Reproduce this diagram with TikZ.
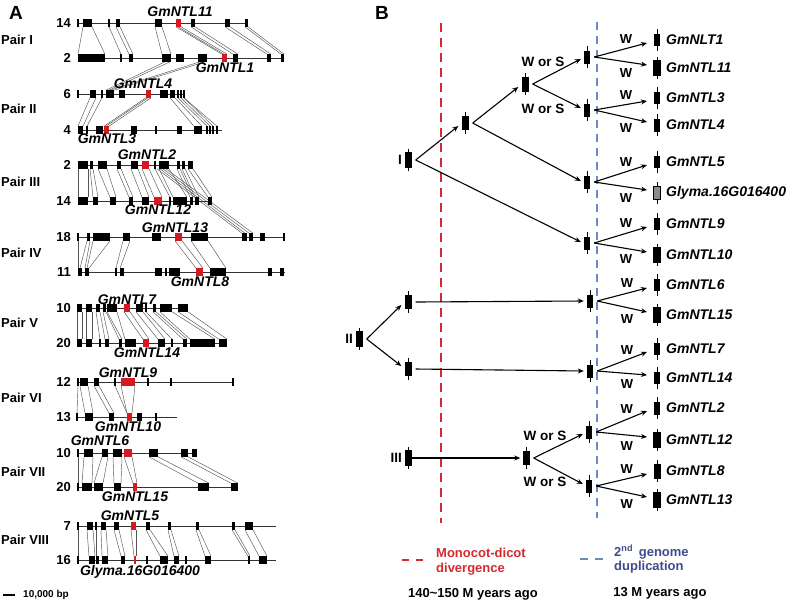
\documentclass[tikz,border=0pt]{standalone}
\usepackage{fontspec}
\setmainfont{Liberation Sans}
\usetikzlibrary{arrows.meta,calc}
\definecolor{ared}{HTML}{D7191F}
\definecolor{dred}{HTML}{D42A2F}
\definecolor{dblue}{HTML}{6A8BBE}
\definecolor{tblue}{HTML}{3F4C8C}
\definecolor{lkc}{HTML}{555555}
\tikzset{
  lk/.style={draw=lkc, line width=0.45pt},
  chrl/.style={draw=black!80, line width=0.9pt},
  numl/.style={font=\fontsize{13}{13}\selectfont\bfseries, inner sep=0pt},
  pairl/.style={font=\fontsize{13}{13}\selectfont\bfseries, inner sep=0pt, anchor=west},
  genl/.style={font=\fontsize{14}{14}\selectfont\bfseries\itshape, inner sep=0pt},
  arr/.style={line width=1.1pt, -{Stealth[length=6pt,width=5pt]}},
  wl/.style={font=\fontsize{13}{13}\selectfont\bfseries, inner sep=1pt},
  wsl/.style={font=\fontsize{13.5}{14}\selectfont\bfseries, inner sep=0pt},
  legt/.style={font=\fontsize{13}{13}\selectfont\bfseries, inner sep=0pt},
}
\newcommand\chr[4]{\draw[chrl] (#2,#1) -- (#3,#1); \node[numl, anchor=east] at (71,#1) {#4};}
\newcommand\blocks[2]{\foreach \a/\b in {#2}{\fill (\a,#1-3.8) rectangle (\b,#1+3.8);}}
\newcommand\reds[2]{\foreach \a/\b in {#2}{\fill[ared] (\a,#1-3.8) rectangle (\b,#1+3.8);}}
\newcommand\ticks[2]{\foreach \a in {#2}{\draw[line width=1.2pt] (\a,#1-3.8) -- (\a,#1+3.8);}}
\newcommand\links[3]{\foreach \a/\b in {#3}{\draw[lk] (\a,#1+3.8) -- (\b,#2-3.8);}}
\newcommand\gn[5]{\draw[line width=1pt] (#2,#3-11) -- (#2,#3+11);
  \node[fill=black, inner sep=0pt, minimum width=#4, minimum height=#5] (#1) at (#2,#3) {};}
\begin{document}
\begin{tikzpicture}[x=1pt,y=-1pt]
\useasboundingbox (0,0) rectangle (794,606);
\fill[white] (0,0) rectangle (794,606);

% ---------------- Panel A ----------------
\node[font=\fontsize{19}{19}\selectfont\bfseries, inner sep=0pt] at (16,13) {A};

% links
\links{23}{58}{83/78, 92/105, 109/121, 116/129, 120/133, 155/162, 162/171, 176/222, 178/224, 181/227, 191/233, 195/238, 225/267, 230/271, 245/281, 248/284}
\links{58}{94}{165/106, 170/109, 200/110, 205/114}
\links{94}{130}{90/78, 96/83, 102/87, 146/104, 148/106, 151/109, 170/194, 175/202, 178/207, 181/210, 184/213, 184/217}
\links{165}{201}{78/78, 88/88, 90/93, 93/98, 98/110, 107/116, 117/129, 121/133, 131/142, 138/149, 142/154, 149/162, 155/170, 159/173, 169/187, 177/190, 180/193, 182/195, 185/199, 188/208, 193/212}
\links{165}{237}{157/242, 160/245, 163/249, 166/253}
\links{237}{272}{78/78, 87/80, 90/85, 93/87, 110/89, 123/116, 130/120, 175/196, 182/203, 191/210, 208/226}
\links{308}{343}{77/77, 82/82, 86/86, 92/92, 96/100, 100/105, 103/109, 106/119, 107/122, 117/125, 124/143, 130/149, 136/158, 143/165, 146/172, 153/183, 156/187, 160/190, 172/215, 178/219, 188/227}
\links{382}{417}{78/77, 80/85, 88/93, 94/109, 99/114, 115/127, 121/127, 135/132}
\links{453}{487}{78/78, 84/82, 93/92, 102/94, 108/103, 113/114, 122/121, 124/133, 132/137, 149/198, 158/209, 181/231, 188/238}
\links{526}{560}{78/78, 87/89, 93/95, 96/96, 101/102, 106/108, 114/121, 119/125, 131/134, 136/136, 146/160, 150/168, 168/174, 171/179, 196/205, 199/211, 232/248, 235/250, 245/259, 253/267}

% Pair I
\node[pairl] at (1,40) {Pair I};
\chr{23}{78}{247}{14}
\ticks{23}{78,109}
\blocks{23}{83/92, 116/120, 155/162, 191/195, 225/230, 245/248}
\reds{23}{176/181}
\chr{58}{78}{283}{2}
\ticks{58}{121}
\blocks{58}{78/105, 129/133, 162/171, 176/184, 198/207, 233/238, 267/271, 281/284}
\reds{58}{222/227}
\node[genl] at (180,12) {GmNTL11};
\node[genl] at (225,68) {GmNTL1};

% Pair II
\node[pairl] at (1,109) {Pair II};
\chr{94}{78}{185}{6}
\ticks{94}{78,102,178,181,184}
\blocks{94}{90/96, 106/114, 119/125, 160/168, 170/175}
\reds{94}{146/151}
\chr{130}{78}{222}{4}
\ticks{130}{87,156,207,210,213,217}
\blocks{130}{78/83, 96/103, 131/137, 177/182, 194/202}
\reds{130}{104/109}
\node[genl] at (143,84) {GmNTL4};
\node[genl] at (107,139) {GmNTL3};

% Pair III
\node[pairl] at (1,182) {Pair III};
\chr{165}{78}{193}{2}
\ticks{165}{155}
\blocks{165}{78/88, 90/93, 98/107, 117/121, 131/138, 159/169, 177/180, 182/185, 188/193}
\reds{165}{142/149}
\chr{201}{78}{212}{14}
\ticks{201}{170}
\blocks{201}{78/88, 93/98, 110/116, 129/133, 142/149, 173/187, 190/193, 195/199, 208/212}
\reds{201}{154/162}
\node[genl] at (147,155) {GmNTL2};
\node[genl] at (158,210) {GmNTL12};

% Pair IV
\node[pairl] at (1,253) {Pair IV};
\chr{237}{78}{285}{18}
\ticks{237}{78,284}
\blocks{237}{87/90, 93/110, 123/130, 152/161, 191/208, 242/247, 249/253, 260/265}
\reds{237}{175/182}
\chr{272}{78}{285}{11}
\ticks{272}{116,166}
\blocks{272}{78/82, 85/89, 120/124, 155/162, 169/180, 210/226, 268/272, 280/284}
\reds{272}{196/203}
\node[genl] at (175,228) {GmNTL13};
\node[genl] at (200,282) {GmNTL8};

% Pair V
\node[pairl] at (1,323) {Pair V};
\chr{308}{78}{188}{10}
\ticks{308}{146}
\blocks{308}{77/82, 86/92, 96/100, 103/106, 107/117, 136/143, 153/156, 160/172, 178/188}
\reds{308}{124/130}
\chr{343}{78}{227}{20}
\ticks{343}{100,172}
\blocks{343}{77/82, 86/92, 105/109, 119/122, 125/136, 158/165, 183/187, 190/215, 219/227}
\reds{343}{143/149}
\node[genl] at (127,300) {GmNTL7};
\node[genl] at (147,353) {GmNTL14};

% Pair VI
\node[pairl] at (1,398) {Pair VI};
\chr{382}{78}{233}{12}
\ticks{382}{78,115,148,171,233}
\blocks{382}{80/88, 94/99}
\reds{382}{121/135}
\chr{417}{78}{177}{13}
\ticks{417}{77,156}
\blocks{417}{85/93, 109/114, 137/142}
\reds{417}{127/132}
\node[genl] at (128,373) {GmNTL9};
\node[genl] at (128,427) {GmNTL10};

% Pair VII
\node[pairl] at (1,472) {Pair VII};
\chr{453}{78}{197}{10}
\ticks{453}{78}
\blocks{453}{84/93, 102/108, 113/122, 149/158, 181/188, 192/197}
\reds{453}{124/132}
\chr{487}{78}{238}{20}
\ticks{487}{78}
\blocks{487}{82/92, 94/103, 114/121, 198/209, 231/238}
\reds{487}{133/137}
\node[genl] at (100,441) {GmNTL6};
\node[genl] at (135,497) {GmNTL15};

% Pair VIII
\node[pairl] at (1,540) {Pair VIII};
\chr{526}{78}{276}{7}
\ticks{526}{78,96}
\blocks{526}{87/93, 101/106, 114/119, 146/150, 168/171, 196/199, 232/235, 245/253}
\reds{526}{131/136}
\chr{560}{78}{276}{16}
\ticks{560}{78,147,186,249}
\blocks{560}{89/95, 96/99, 102/108, 121/125, 160/168, 174/179, 205/211, 259/267}
\reds{560}{134/136}
\node[genl] at (130,516) {GmNTL5};
\node[genl] at (140,572) {Glyma.16G016400};

% scale bar
\draw[line width=2.6pt] (3,595) -- (15,595);
\node[font=\fontsize{10}{10}\selectfont\bfseries, inner sep=0pt, anchor=west] at (23,595) {10,000 bp};

% ---------------- Panel B ----------------
\node[font=\fontsize{19}{19}\selectfont\bfseries, inner sep=0pt] at (382,13) {B};

\draw[dred, line width=2pt, dash pattern=on 9pt off 6pt] (441,23) -- (441,523);
\draw[dblue, line width=1.6pt, dash pattern=on 8pt off 6pt] (597,22) -- (597,518);

% internal nodes
\gn{I}{408}{160}{7}{16}
\gn{n2}{465}{123}{7}{14}
\gn{n3}{525}{84}{7}{15}
\gn{p1}{587}{57}{6}{13}
\gn{p2}{587}{110}{6}{13}
\gn{p3}{587}{182}{6}{13}
\gn{p4}{587}{243}{6}{13}
\gn{II}{359}{339}{7}{16}
\gn{c1}{408}{302}{7}{14}
\gn{c2}{408}{369}{7}{14}
\gn{p5}{590}{301}{6}{13}
\gn{p6}{590}{371}{6}{13}
\gn{III}{408}{458}{7}{16}
\gn{n3b}{526}{458}{7}{14}
\gn{p7}{589}{432}{6}{13}
\gn{p8}{589}{486}{6}{13}

\node[wsl, anchor=east] at (402,160) {I};
\node[wsl, anchor=east] at (353,339) {II};
\node[wsl, anchor=east] at (402,458) {III};

% leaves
\gn{g1}{657}{40}{6}{12}
\gn{g2}{657}{68}{8}{16}
\gn{g3}{657}{98}{6}{12}
\gn{g4}{657}{125}{6}{13}
\gn{g5}{657}{162}{6}{12}
\draw[line width=1pt] (657,182) -- (657,204);
\node[fill=black!45, draw=black, line width=0.8pt, inner sep=0pt, minimum width=7, minimum height=13] (g6) at (657,193) {};
\gn{g7}{657}{224}{6}{12}
\gn{g8}{657}{255}{8}{16}
\gn{g9}{657}{285}{6}{12}
\gn{g10}{657}{315}{8}{16}
\gn{g11}{657}{349}{6}{12}
\gn{g12}{657}{378}{6}{12}
\gn{g13}{657}{408}{6}{13}
\gn{g14}{657}{440}{8}{16}
\gn{g15}{657}{471}{7}{15}
\gn{g16}{657}{500}{8}{16}

\foreach \g/\t in {g1/GmNLT1, g2/GmNTL11, g3/GmNTL3, g4/GmNTL4, g5/GmNTL5, g6/Glyma.16G016400, g7/GmNTL9, g8/GmNTL10, g9/GmNTL6, g10/GmNTL15, g11/GmNTL7, g12/GmNTL14, g13/GmNTL2, g14/GmNTL12, g15/GmNTL8, g16/GmNTL13}
  \node[genl, anchor=west] at ($(\g.center)+(9,0)$) {\t};

% vertices
\foreach \n in {I,n2,n3,II,III,n3b,p1,p2,p3,p4,p5,p6,p7,p8}
  \coordinate (v\n) at ($(\n.east)+(4,0)$);

% early arrows
\draw[arr] (vI) -- ($(n2.west)+(-3,3)$);
\draw[arr] (vI) -- ($(p4.west)+(-3,-1)$);
\draw[arr] (vn2) -- ($(n3.west)+(-3,3)$);
\draw[arr] (vn2) -- ($(p3.west)+(-3,-1)$);
\draw[arr] (vn3) -- ($(p1.west)+(-3,2)$);
\draw[arr] (vn3) -- ($(p2.west)+(-3,-2)$);
\node[wsl] (ws1) at (543,62) {W or S};
\node[wsl] (ws2) at (543,109) {W or S};
\draw[arr] (vII) -- ($(c1.west)+(-3,3)$);
\draw[arr] (vII) -- ($(c2.west)+(-3,-3)$);
\draw[arr] ($(c1.east)+(4,0)$) -- ($(p5.west)+(-3,0)$);
\draw[arr] ($(c2.east)+(4,0)$) -- ($(p6.west)+(-3,0)$);
\draw[arr] (III.east) -- ($(n3b.west)+(-2,0)$);
\draw[arr] (vn3b) -- ($(p7.west)+(-3,2)$);
\draw[arr] (vn3b) -- ($(p8.west)+(-3,-2)$);
\node[wsl] (ws3) at (545,436) {W or S};
\node[wsl] (ws4) at (545,482) {W or S};

% duplication arrows
\foreach \p/\u/\l in {p1/g1/g2, p2/g3/g4, p3/g5/g6, p4/g7/g8, p5/g9/g10, p6/g11/g12, p7/g13/g14, p8/g15/g16}{
  \draw[arr] (v\p) -- node[pos=0.6, above=4pt, wl] {W} ($(\u.center)+(-10,3)$);
  \draw[arr] (v\p) -- node[pos=0.6, below=5pt, wl] {W} ($(\l.center)+(-10,-3)$);
}

% legend
\draw[dred, line width=2pt] (402,560) -- (409,560) (416,560) -- (423,560);
\node[legt, text=dred, anchor=west] at (436,553) {Monocot-dicot};
\node[legt, text=dred, anchor=west] at (436,569) {divergence};
\node[legt] at (473,594) {140\textasciitilde 150 M years ago};
\draw[dblue, line width=1.6pt] (580,559) -- (588,559) (595,559) -- (603,559);
\node[legt, text=tblue, anchor=west] at (614,552) {2\textsuperscript{nd}\, genome};
\node[legt, text=tblue, anchor=west] at (614,567) {duplication};
\node[legt] at (660,593) {13 M years ago};
\end{tikzpicture}
\end{document}
